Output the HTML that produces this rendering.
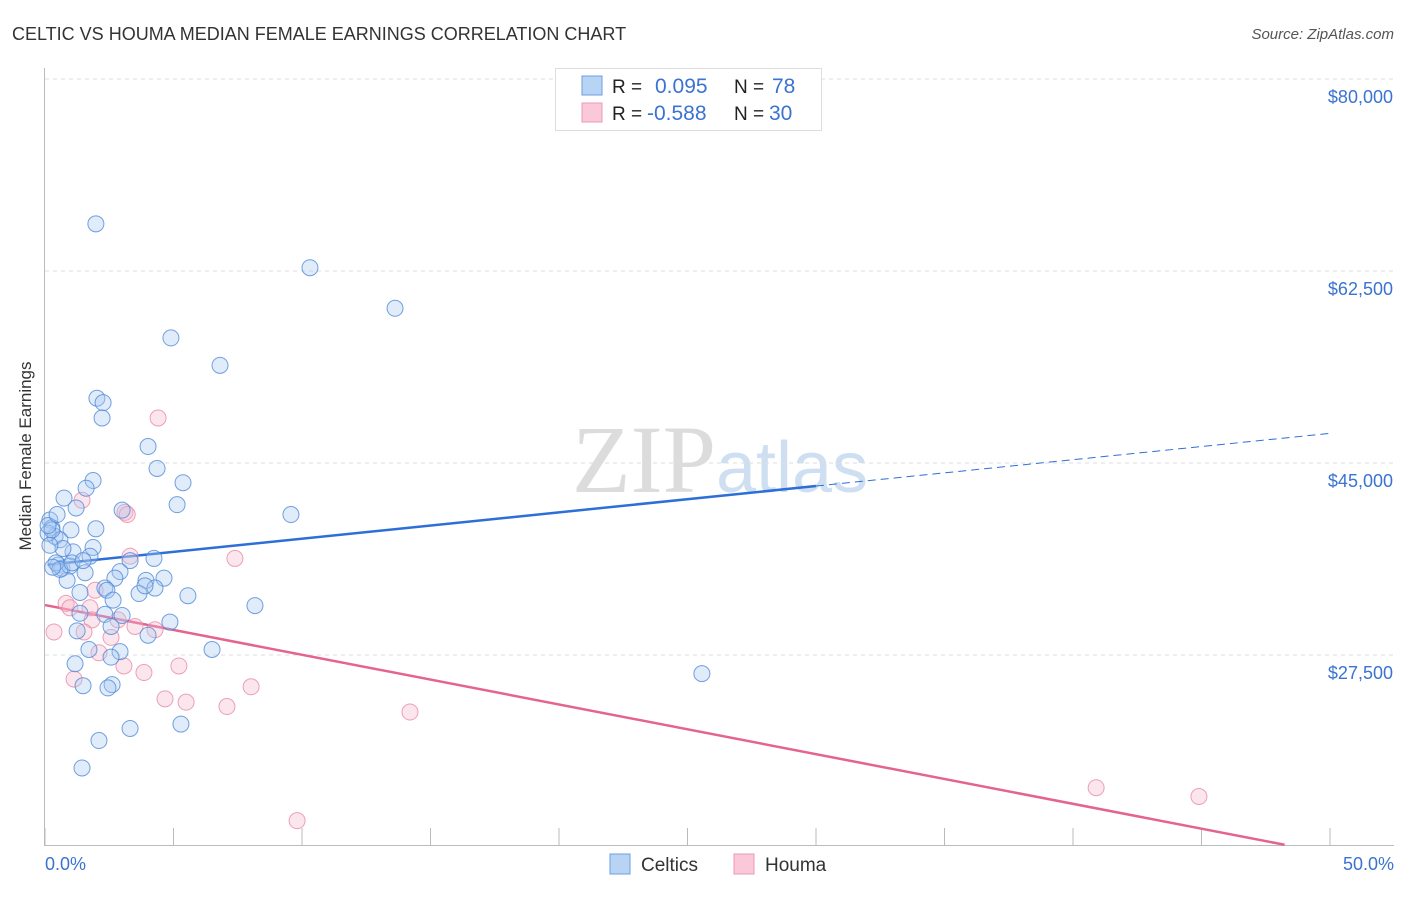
<!DOCTYPE html>
<html><head><meta charset="utf-8"><style>
body{margin:0;background:#fff;font-family:"Liberation Sans",sans-serif;}
svg text{font-family:"Liberation Sans",sans-serif;}
</style></head><body>
<svg id="chart" width="1406" height="892">
<text x="12" y="40" font-size="18" fill="#333">CELTIC VS HOUMA MEDIAN FEMALE EARNINGS CORRELATION CHART</text>
<text x="1394" y="39" font-size="15" fill="#555" font-style="italic" text-anchor="end">Source: ZipAtlas.com</text>
<text x="31" y="456" font-size="17" fill="#333" text-anchor="middle" transform="rotate(-90 31 456)">Median Female Earnings</text>
<text x="720" y="492" font-size="96" fill="#ddd" text-anchor="middle" font-family="Liberation Serif"><tspan fill="#dcdcdc" font-family="Liberation Serif">ZIP</tspan><tspan fill="#cfdff2" font-size="72" font-family="Liberation Sans">atlas</tspan></text>
<g id="grid"></g><g id="axes"></g><g id="lines"></g><g id="pts"></g>
<g>
<rect x="555.5" y="68.5" width="266" height="62" fill="#fff" stroke="#ddd"/>
<rect x="582" y="76" width="20" height="19" fill="#b8d4f5" stroke="#6a9fe0"/>
<rect x="582" y="103" width="20" height="19" fill="#fac8d8" stroke="#ec9ab4"/>
<text x="612" y="93" font-size="19" fill="#222">R =</text><text x="655" y="93" font-size="21" fill="#3a73d0">0.095</text>
<text x="734" y="93" font-size="19" fill="#222">N =</text><text x="772" y="93" font-size="21" fill="#3a73d0">78</text>
<text x="612" y="120" font-size="19" fill="#222">R =</text><text x="647" y="120" font-size="21" fill="#3a73d0">-0.588</text>
<text x="734" y="120" font-size="19" fill="#222">N =</text><text x="769" y="120" font-size="21" fill="#3a73d0">30</text>
</g>
<g>
<rect x="610" y="854" width="20" height="20" fill="#b8d4f5" stroke="#6a9fe0"/>
<text x="641" y="871" font-size="19" fill="#333">Celtics</text>
<rect x="734" y="854" width="20" height="20" fill="#fac8d8" stroke="#ec9ab4"/>
<text x="765" y="871" font-size="19" fill="#333">Houma</text>
</g>
<text x="45" y="870" font-size="18" fill="#3a73d0">0.0%</text>
<text x="1394" y="870" font-size="18" fill="#3a73d0" text-anchor="end">50.0%</text>
</svg>
<script>
const yTicks=[80000,62500,45000,27500];
const yTickLabels=["$80,000","$62,500","$45,000","$27,500"];
const xTicks=[0,5,10,15,20,25,30,35,40,45,50];
const celticsX=[1.98,10.31,13.62,4.90,6.81,2.02,2.26,2.22,4.01,4.36,5.37,1.87,1.60,0.74,1.21,5.14,3.00,9.57,1.98,1.01,0.19,0.27,0.39,0.58,1.87,1.09,0.70,1.75,4.24,3.31,0.51,0.66,0.97,1.56,2.92,2.72,0.86,3.93,4.63,4.28,2.33,2.41,1.36,3.66,2.65,5.56,8.17,3.00,1.36,2.33,4.86,2.57,1.25,4.01,1.71,2.92,6.50,2.57,1.17,25.56,1.48,2.61,2.45,5.29,3.31,2.10,1.44,0.12,0.19,0.43,0.27,0.58,1.05,3.89,1.48,0.12,0.47,0.30];
const celticsY=[66.8,62.8,59.1,56.4,53.9,50.9,50.5,49.1,46.5,44.5,43.2,43.4,42.7,41.8,40.9,41.2,40.7,40.3,39.0,38.9,39.8,39.1,38.3,38.0,37.3,36.9,37.2,36.5,36.3,36.1,35.7,35.4,35.6,35.0,35.1,34.5,34.3,34.3,34.5,33.6,33.6,33.4,33.2,33.1,32.5,32.9,32.0,31.1,31.3,31.2,30.5,30.1,29.7,29.3,28.0,27.8,28.0,27.3,26.7,25.8,24.7,24.8,24.5,21.2,20.8,19.7,17.2,38.6,37.5,35.9,38.9,35.3,35.9,33.8,36.1,39.3,40.3,35.5];
const houmaX=[4.40,1.44,3.11,3.31,7.39,0.82,0.97,1.75,1.83,3.50,4.28,0.35,1.52,2.57,2.84,2.10,3.07,5.21,3.85,1.13,8.02,4.67,5.49,7.08,14.20,9.81,40.9,44.9,1.95,3.20];
const houmaY=[49.1,41.6,40.5,36.5,36.3,32.2,31.8,31.8,30.7,30.1,29.8,29.6,29.6,29.1,30.7,27.7,26.5,26.5,25.9,25.3,24.6,23.5,23.2,22.8,22.3,12.4,15.4,14.6,33.4,40.3];
const celticsTrend=[35.7,47.7]; // value at 0% and 50%, $k
const houmaTrend=[32.05,9.4];
const NS="http://www.w3.org/2000/svg";
const X=p=>45+p*25.7, Y=k=>79+(80-k)*10.971, Yv=v=>Y(v/1000);
function mk(tag,attrs,parent){const e=document.createElementNS(NS,tag);for(const k in attrs)e.setAttribute(k,attrs[k]);document.getElementById(parent).appendChild(e);return e;}
yTicks.forEach((v,i)=>{
 const l=mk('line',{x1:45,x2:1394,y1:Yv(v),y2:Yv(v),stroke:'#ddd','stroke-dasharray':'4,4'},'grid');
 
 
 const t=mk('text',{x:1393,y:Yv(v)+24,'font-size':18,fill:'#3a73d0','text-anchor':'end'},'grid');
 t.textContent=yTickLabels[i];
 
 
});
let a=mk('line',{x1:44.5,x2:44.5,y1:68,y2:845,stroke:'#bbb'},'axes');


a=mk('line',{x1:44,x2:1394,y1:845.5,y2:845.5,stroke:'#bbb'},'axes');


xTicks.forEach(p=>{const t=mk('line',{x1:X(p),x2:X(p),y1:828,y2:845,stroke:'#bbb'},'axes');
 
 });
function pts(xs,ys,fill,stroke,name){xs.forEach((x,i)=>{const c=mk('circle',{cx:X(x),cy:Y(ys[i]),r:8,fill:fill,'fill-opacity':0.35,stroke:stroke,'stroke-width':1,'stroke-opacity':0.8},'pts');
 
 });}
pts(houmaX,houmaY,'#f7b6cb','#e88aa8','houma-point');
pts(celticsX,celticsY,'#a9c9f0','#4f8ad8','celtics-point');
const cAt=p=>celticsTrend[0]+(celticsTrend[1]-celticsTrend[0])*p/50;
let l=mk('line',{x1:X(0.1),y1:Y(cAt(0.1)),x2:X(30),y2:Y(cAt(30)),stroke:'#2d6fd6','stroke-width':2.5},'lines');


l=mk('line',{x1:X(30),y1:Y(cAt(30)),x2:X(50),y2:Y(cAt(50)),stroke:'#2d6fd6','stroke-width':1,'stroke-dasharray':'8,5'},'lines');


const hAt=p=>houmaTrend[0]+(houmaTrend[1]-houmaTrend[0])*p/50;
const pEnd=50*(houmaTrend[0]-10.2)/(houmaTrend[0]-houmaTrend[1]);
l=mk('line',{x1:X(0),y1:Y(hAt(0)),x2:X(pEnd),y2:Y(hAt(pEnd)),stroke:'#e4638f','stroke-width':2.5},'lines');


</script>
</body></html>
